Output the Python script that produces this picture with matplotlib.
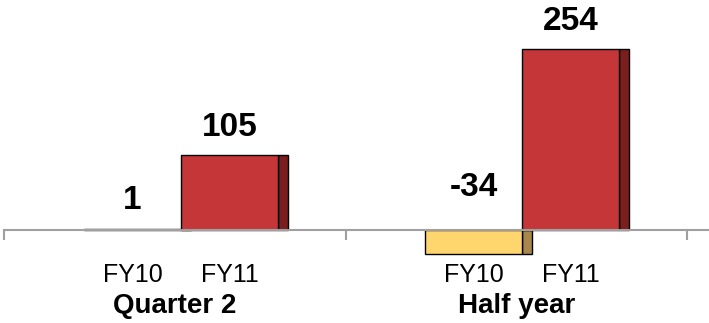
import matplotlib
matplotlib.use('Agg')
import matplotlib.pyplot as plt
import numpy as np

plt.rcParams['font.family'] = ['Liberation Sans', 'DejaVu Sans']

# chart data
groups = ['Quarter 2', 'Half year']
years = ['FY10', 'FY11']
fy10 = [1, -34]
fy11 = [105, 254]

front_colors = {'FY10': '#FFD56E', 'FY11': '#C43638'}
side_colors = {'FY10': '#A8884A', 'FY11': '#7A1E1E'}

BAR_W = 0.284
DEPTH = 0.029
offsets = {'FY10': 0.376, 'FY11': 0.660}

fig = plt.figure(figsize=(7.09, 3.23), dpi=100)
ax = fig.add_axes([0, 0, 1, 1])
px_per_unit = 341.5
ax.set_xlim(-4 / px_per_unit, (709 - 4) / px_per_unit)
ax.set_ylim(-93.5 / 0.709, 229.5 / 0.709)

gx = np.arange(len(groups))
for name, vals in zip(years, [fy10, fy11]):
    xc = gx + offsets[name]
    # darker right side for the 3d look
    ax.bar(xc + BAR_W / 2, vals, width=DEPTH, align='edge',
           color=side_colors[name], edgecolor='black', linewidth=1, zorder=1.4)
    ax.bar(xc, vals, width=BAR_W, color=front_colors[name],
           edgecolor='black', linewidth=1, zorder=1.5)
    for x, v in zip(xc, vals):
        off = 9 if v >= 0 else 19
        ax.annotate(str(v), (x, max(v, 0)), xytext=(0, off), textcoords='offset points',
                    ha='center', va='bottom', fontsize=24, fontweight='bold')

for i, g in enumerate(groups):
    ax.annotate(g, (i + 0.5, 0), xytext=(0, -45.5), textcoords='offset points',
                ha='center', va='top', fontsize=20, fontweight='bold')

for s in ['top', 'right', 'left']:
    ax.spines[s].set_visible(False)
ax.spines['bottom'].set_position(('data', 0))
ax.spines['bottom'].set_bounds(0, ax.get_xlim()[1])
ax.spines['bottom'].set_color('#A0A0A0')
ax.spines['bottom'].set_linewidth(1.5)
ax.spines['bottom'].set_zorder(3)

ax.set_xticks(np.arange(len(groups) + 1))
ax.set_xticklabels([])
ax.tick_params(axis='x', which='major', length=7.2, width=1.5, color='#A0A0A0')
minor_pos = [i + offsets[y] for i in gx for y in years]
ax.set_xticks(minor_pos, minor=True)
ax.set_xticklabels([y for i in gx for y in years], minor=True, fontsize=18)
ax.tick_params(axis='x', which='minor', length=0, pad=24)
ax.set_yticks([])

fig.savefig('out.png', dpi=100)
